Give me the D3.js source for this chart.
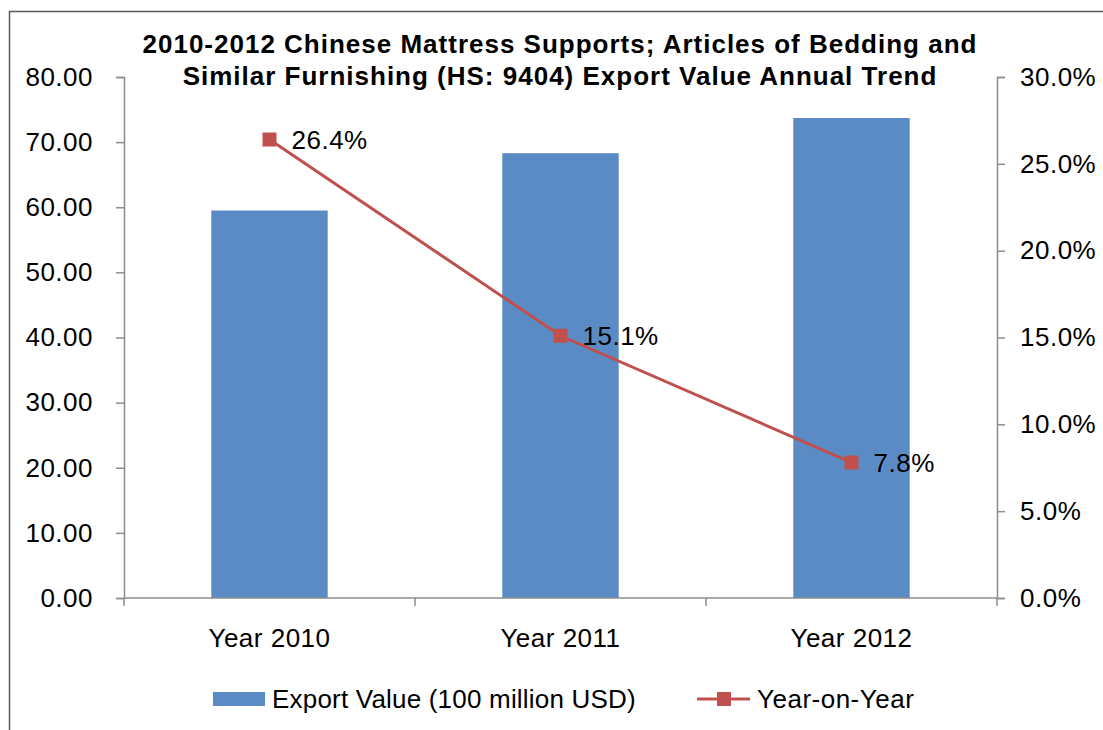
<!DOCTYPE html>
<html>
<head>
<meta charset="utf-8">
<script src="https://cdn.jsdelivr.net/npm/d3@7"></script>
<style>
  body { margin: 0; background: #fff; }
  text { font-family: "Liberation Sans", Arial, sans-serif; fill: #000; }
</style>
</head>
<body>
<svg id="chart"></svg>
<script>
const WIDTH = 1103;
const HEIGHT = 730;

const years = ["Year 2010", "Year 2011", "Year 2012"];
const exportValues = [59.5, 68.3, 73.7];
const yoyGrowth = [0.264, 0.151, 0.078];
const leftTicks = [0, 10, 20, 30, 40, 50, 60, 70, 80];
const rightTicks = [0, 0.05, 0.1, 0.15, 0.2, 0.25, 0.3];
const titleLines = [
  "2010-2012 Chinese Mattress Supports; Articles of Bedding and",
  "Similar Furnishing (HS: 9404) Export Value Annual Trend"
];
const seriesNames = ["Export Value (100 million USD)", "Year-on-Year"];

const BAR_COLOR = "#5b8bc4";
const LINE_COLOR = "#c0504d";
const AXIS_COLOR = "#8c8c8c";
const FONT = 26;
const SPACING = 0.5;

const svg = d3.select("#chart").attr("width", WIDTH).attr("height", HEIGHT);

// outer frame (runs off the right and bottom edges like the original)
svg.append("rect")
  .attr("x", 9.5).attr("y", 11.5)
  .attr("width", 1200).attr("height", 800)
  .attr("fill", "none").attr("stroke", "#595959").attr("stroke-width", 1.5);

const x = d3.scaleBand().domain(years).range([124, 997]).paddingInner(0).paddingOuter(0);
const yLeft = d3.scaleLinear().domain([0, 80]).range([598, 77]);
const yRight = d3.scaleLinear().domain([0, 0.3]).range([598, 77]);

// title
svg.append("g")
  .selectAll("text")
  .data(titleLines)
  .join("text")
  .attr("x", 560)
  .attr("y", (_, i) => 53 + i * 32)
  .attr("text-anchor", "middle")
  .attr("font-size", 26)
  .attr("letter-spacing", 1)
  .attr("font-weight", "bold")
  .text((d) => d);

// left axis
const leftAxis = svg.append("g")
  .attr("transform", "translate(124,0)")
  .call(d3.axisLeft(yLeft).tickValues(leftTicks).tickFormat(d3.format(".2f")).tickSize(8).tickPadding(23));
leftAxis.selectAll("text").attr("font-size", FONT).attr("letter-spacing", SPACING).attr("font-family", null);

// right axis
const rightAxis = svg.append("g")
  .attr("transform", "translate(997,0)")
  .call(d3.axisRight(yRight).tickValues(rightTicks).tickFormat(d3.format(".1%")).tickSize(8).tickPadding(15));
rightAxis.selectAll("text").attr("font-size", FONT).attr("letter-spacing", SPACING).attr("font-family", null);

[leftAxis, rightAxis].forEach((g) => {
  g.select(".domain").attr("stroke", AXIS_COLOR).attr("stroke-width", 1.5);
  g.selectAll(".tick line").attr("stroke", AXIS_COLOR).attr("stroke-width", 1.5);
});

// bars
const barWidth = x.bandwidth() * 0.4;
svg.append("g")
  .selectAll("rect")
  .data(exportValues)
  .join("rect")
  .attr("x", (d, i) => x(years[i]) + (x.bandwidth() - barWidth) / 2)
  .attr("y", (d) => yLeft(d))
  .attr("width", barWidth)
  .attr("height", (d) => yLeft(0) - yLeft(d))
  .attr("fill", BAR_COLOR);

// category axis, ticks on the band edges
const edges = years.map((d) => x(d)).concat([x.range()[1]]);
const xAxis = svg.append("g").attr("transform", "translate(0,598)");
xAxis.append("line")
  .attr("x1", x.range()[0]).attr("x2", x.range()[1])
  .attr("stroke", AXIS_COLOR).attr("stroke-width", 1.5);
xAxis.selectAll(".edge")
  .data(edges)
  .join("line")
  .attr("class", "edge")
  .attr("x1", (d) => d)
  .attr("x2", (d) => d)
  .attr("y1", 0).attr("y2", 8)
  .attr("stroke", AXIS_COLOR).attr("stroke-width", 1.5);
xAxis.selectAll(".label")
  .data(years)
  .join("text")
  .attr("class", "label")
  .attr("x", (d) => x(d) + x.bandwidth() / 2)
  .attr("y", 49)
  .attr("text-anchor", "middle")
  .attr("font-size", FONT)
  .attr("letter-spacing", SPACING)
  .text((d) => d);

// year-on-year line
const cx = (i) => x(years[i]) + x.bandwidth() / 2;
const line = d3.line().x((d, i) => cx(i)).y((d) => yRight(d));
svg.append("path")
  .datum(yoyGrowth)
  .attr("d", line)
  .attr("fill", "none")
  .attr("stroke", LINE_COLOR)
  .attr("stroke-width", 3);

svg.append("g")
  .selectAll("rect")
  .data(yoyGrowth)
  .join("rect")
  .attr("x", (d, i) => cx(i) - 7)
  .attr("y", (d) => yRight(d) - 7)
  .attr("width", 14)
  .attr("height", 14)
  .attr("fill", LINE_COLOR);

svg.append("g")
  .selectAll("text")
  .data(yoyGrowth)
  .join("text")
  .attr("x", (d, i) => cx(i) + 22)
  .attr("y", (d) => yRight(d) + 9)
  .attr("font-size", FONT)
  .attr("letter-spacing", SPACING)
  .text((d) => d3.format(".1%")(d));

// legend
const legend = svg.append("g").attr("transform", "translate(0,699)");
legend.append("rect")
  .attr("x", 213).attr("y", -7)
  .attr("width", 52).attr("height", 14)
  .attr("fill", BAR_COLOR);
legend.append("text")
  .attr("x", 272).attr("y", 9)
  .attr("font-size", FONT)
  .attr("letter-spacing", 0.2)
  .text(seriesNames[0]);
legend.append("line")
  .attr("x1", 697).attr("x2", 750)
  .attr("stroke", LINE_COLOR).attr("stroke-width", 3);
legend.append("rect")
  .attr("x", 717).attr("y", -7)
  .attr("width", 14).attr("height", 14)
  .attr("fill", LINE_COLOR);
legend.append("text")
  .attr("x", 757).attr("y", 9)
  .attr("font-size", FONT)
  .attr("letter-spacing", SPACING)
  .text(seriesNames[1]);
</script>
</body>
</html>
